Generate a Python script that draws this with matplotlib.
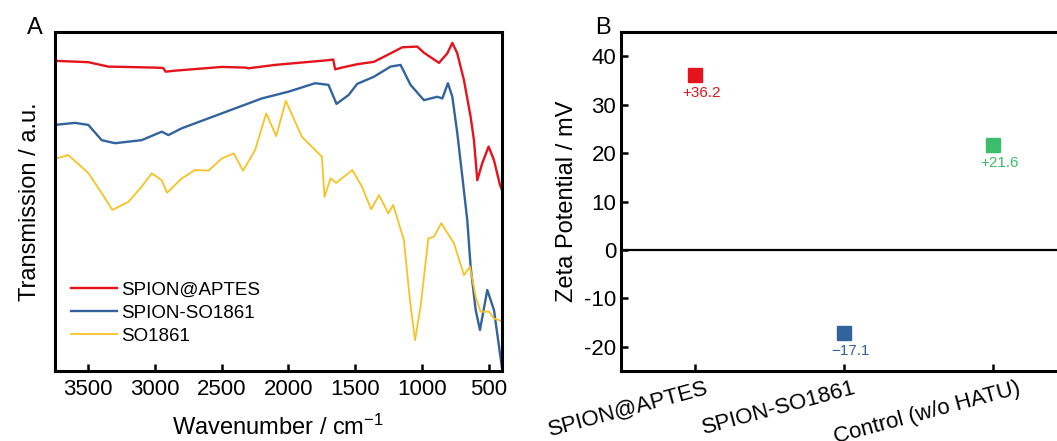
"""FTIR spectra and zeta potential of SPION samples."""

import matplotlib
matplotlib.use('Agg')
import matplotlib.pyplot as plt
from matplotlib.transforms import ScaledTranslation

# フォント設定
matplotlib.rcParams['font.family'] = ['Liberation Sans', 'DejaVu Sans']
matplotlib.rcParams['mathtext.default'] = 'regular'
matplotlib.rcParams['axes.unicode_minus'] = False

# --- Panel A: FTIR transmission (a.u.) ---
wn_aptes = [3750, 3500, 3350, 3000, 2940, 2920, 2850, 2500, 2320, 2300, 2100,
            1700, 1665, 1650, 1600, 1485, 1360, 1235, 1147, 1035, 985, 872,
            810, 772, 735, 685, 635, 610, 585, 547, 500, 460, 415, 400]
t_aptes = [91.5, 91.1, 89.8, 89.5, 89.4, 88.3, 88.6, 89.7, 89.5, 89.3, 90.3,
           91.7, 91.9, 89.0, 89.5, 90.5, 91.2, 93.7, 95.5, 95.7, 93.9, 90.9,
           93.7, 96.8, 93.7, 85.8, 75.0, 68.1, 56.3, 61.4, 66.2, 62.2, 54.9, 53.4]

wn_conj = [3750, 3600, 3500, 3400, 3300, 3100, 2950, 2900, 2800, 2500, 2200,
           2000, 1800, 1700, 1640, 1550, 1485, 1360, 1235, 1160, 1085, 985,
           885, 847, 805, 772, 735, 697, 660, 635, 597, 565, 510, 460, 415, 400]
t_conj = [72.6, 73.2, 72.6, 68.1, 67.2, 68.1, 70.6, 69.6, 71.6, 76.0, 80.4,
          82.4, 84.9, 84.4, 78.8, 81.4, 84.7, 86.8, 89.8, 90.3, 84.4, 79.9,
          80.9, 80.4, 84.9, 80.9, 70.2, 57.3, 44.5, 30.8, 18.0, 12.1, 23.9,
          18.0, 5.2, 0.9]

wn_so = [3740, 3650, 3500, 3400, 3320, 3200, 3100, 3025, 2950, 2910, 2800,
         2700, 2600, 2500, 2410, 2340, 2250, 2167, 2092, 2020, 1900, 1800,
         1750, 1730, 1685, 1642, 1522, 1450, 1380, 1322, 1252, 1215, 1135,
         1090, 1052, 1010, 952, 910, 855, 760, 685, 640, 597, 560, 497, 460, 410]
t_so = [62.7, 63.7, 58.4, 52.5, 47.5, 49.9, 54.4, 58.3, 56.3, 52.6, 56.8,
        59.3, 59.1, 62.7, 64.2, 59.1, 65.2, 76.0, 69.3, 79.7, 69.1, 65.2,
        63.2, 51.4, 56.8, 55.5, 59.3, 54.4, 47.7, 51.9, 46.5, 49.0, 38.6,
        20.9, 9.1, 19.0, 39.1, 39.6, 43.6, 37.7, 28.3, 30.8, 21.9, 17.5,
        17.5, 15.5, 14.8]

wn_ticks = [3500, 3000, 2500, 2000, 1500, 1000, 500]

# --- Panel B: zeta potential ---
samples = ['SPION@APTES', 'SPION-SO1861', 'Control (w/o HATU)']
zeta = [36.2, -17.1, 21.6]
zeta_text = ['+36.2', '\u221217.1', '+21.6']
zeta_ticks = [-20, -10, 0, 10, 20, 30, 40]

RED = '#e5131b'
BLUE = '#33639d'
YELLOW = '#f6c325'
GREEN = '#3dbd6b'

fig = plt.figure(figsize=(10.57, 4.41), dpi=100)
ax_a = fig.add_axes([0.0520, 0.1587, 0.4229, 0.7687])
ax_b = fig.add_axes([0.5875, 0.1587, 0.4229, 0.7687])

# Panel A
ax_a.plot(wn_aptes, t_aptes, color=RED, lw=1.7, label='SPION@APTES')
ax_a.plot(wn_conj, t_conj, color=BLUE, lw=1.7, label='SPION-SO1861')
ax_a.plot(wn_so, t_so, color=YELLOW, lw=1.3, label='SO1861')
ax_a.set_xlim(3750, 400)
ax_a.set_ylim(0, 100)
ax_a.set_xticks(wn_ticks)
ax_a.set_yticks([])
ax_a.tick_params(axis='x', direction='in', length=5, width=1.8,
                 labelsize=16, pad=6)
ax_a.set_xlabel('Wavenumber / cm$^{-1}$', fontsize=17, labelpad=10)
ax_a.set_ylabel('Transmission / a.u.', fontsize=17, labelpad=10)
ax_a.legend(loc='lower left', bbox_to_anchor=(0.035, 0.077), frameon=False,
            fontsize=13.5, handlelength=2.45, handletextpad=0.25,
            labelspacing=0.31, borderpad=0, borderaxespad=0)
ax_a.text(-0.045, 0.98, 'A', transform=ax_a.transAxes, fontsize=17,
          ha='center', va='bottom')

# Panel B
pos = [1, 2, 3]
colors = [RED, BLUE, GREEN]
for x, v, c, s in zip(pos, zeta, colors, zeta_text):
    ax_b.plot(x, v, 's', color=c, markersize=10)
    ax_b.annotate(s, (x, v), xytext=(4, -13), textcoords='offset points',
                  ha='center', va='center', color=c, fontsize=11)
ax_b.axhline(0, color='black', lw=1.6)
ax_b.set_xlim(0.5, 3.5)
ax_b.set_ylim(-25, 45)
ax_b.set_xticks(pos)
ax_b.set_xticklabels(samples, rotation=15, ha='right',
                     rotation_mode='anchor')
ax_b.set_yticks(zeta_ticks)
ax_b.tick_params(axis='both', direction='in', length=5, width=1.8,
                 labelsize=16)
ax_b.tick_params(axis='x', labelsize=16, pad=5)
# shift category labels a little to the right of their ticks
for lab, dx in zip(ax_b.get_xticklabels(), [10, 8, 24]):
    shift = ScaledTranslation(dx / 100, 0, fig.dpi_scale_trans)
    lab.set_transform(lab.get_transform() + shift)
ax_b.set_ylabel('Zeta Potential / mV', fontsize=17, labelpad=4)
ax_b.text(-0.04, 0.98, 'B', transform=ax_b.transAxes, fontsize=17,
          ha='center', va='bottom')

for ax in (ax_a, ax_b):
    for sp in ax.spines.values():
        sp.set_linewidth(2.2)

plt.savefig('out.png', dpi=100)
plt.close()
